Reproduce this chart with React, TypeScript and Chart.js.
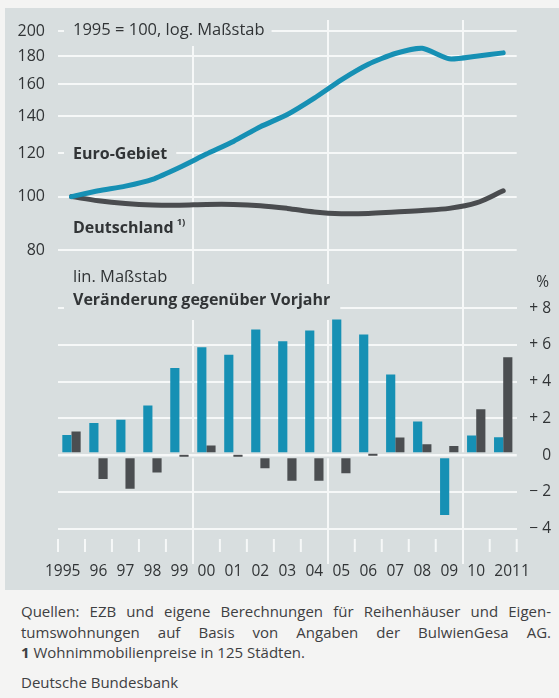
import React, { useEffect, useRef } from 'react';
import { Chart, registerables } from 'chart.js';

Chart.register(...registerables);

// ---------- data ----------
const years = ['1995', '96', '97', '98', '99', '00', '01', '02', '03', '04', '05', '06', '07', '08', '09', '10', '2011'];
// 1995 = 100, log scale
const euroIndex = [100, 102.5, 104.5, 107.5, 113, 119.5, 126, 134, 141, 151, 163, 174, 182, 186, 178, 180, 182.5];
const deIndex = [100, 98.3, 97.2, 96.6, 96.5, 96.8, 96.8, 96.3, 95.2, 93.8, 93.1, 93.2, 93.8, 94.4, 95.2, 97.4, 102.5];
// change vs previous year, %
const euroChange = [1.1, 1.75, 1.93, 2.7, 4.75, 5.87, 5.47, 6.84, 6.2, 6.78, 7.38, 6.56, 4.39, 1.83, -3.25, 1.08, 0.98];
const deChange = [1.29, -1.29, -1.82, -0.93, -0.1, 0.53, -0.1, -0.71, -1.39, -1.39, -0.98, 0.1, 0.96, 0.6, 0.5, 2.5, 5.33];

const indexTicks = [80, 100, 120, 140, 160, 180, 200];
const changeTicks = [-4, -2, 0, 2, 4, 6, 8];
const changeTickLabels = ['\u2212 4', '\u2212 2', '0', '+ 2', '+ 4', '+ 6', '+ 8'];

// ---------- style ----------
const W = 559;
const H = 598;
const TEAL = '#1690b4';
const DARK = '#4b4e51';
const PANEL = '#d8dedf';
const PAGE = '#f4f4f3';
const GRID = '#f6f8f8';
const TEXT = '#313436';
const FONT = '"Open Sans", sans-serif';

function drawLabel(ctx: CanvasRenderingContext2D, text: string, x: number, y: number, bold: boolean, box?: number[]) {
  ctx.font = bold ? `bold 16px ${FONT}` : `16.5px ${FONT}`;
  const w = ctx.measureText(text).width;
  if (box) {
    ctx.fillStyle = PANEL;
    ctx.fillRect(x - box[0], y - box[2], w + box[0] + box[1], box[2] + box[3]);
  }
  ctx.fillStyle = TEXT;
  ctx.textAlign = 'left';
  ctx.textBaseline = 'middle';
  ctx.fillText(text, x, y);
  return w;
}

const decor = {
  id: 'decor',
  beforeDraw(chart: any) {
    const ctx = chart.ctx as CanvasRenderingContext2D;
    ctx.save();
    ctx.fillStyle = PAGE;
    ctx.fillRect(0, 0, W, H);
    ctx.fillStyle = PANEL;
    ctx.fillRect(5, 8, W - 5, 582);
    ctx.restore();
  },
  beforeDatasetsDraw(chart: any) {
    const ctx = chart.ctx as CanvasRenderingContext2D;
    const x = chart.scales.x;
    const yl = chart.scales.yIndex;
    const yr = chart.scales.yChange;
    const step = x.getPixelForTick(1) - x.getPixelForTick(0);
    ctx.save();
    // small category ticks at the bottom
    ctx.strokeStyle = GRID;
    ctx.lineWidth = 2;
    for (let i = 0; i <= years.length; i++) {
      if (i % 5 === 0 && i > 0 && i < years.length) continue;
      const px = x.getPixelForTick(0) - step / 2 + i * step;
      ctx.beginPath();
      ctx.moveTo(px, 539);
      ctx.lineTo(px, 552);
      ctx.stroke();
    }
    // left axis labels
    ctx.font = `16px ${FONT}`;
    ctx.fillStyle = TEXT;
    ctx.textAlign = 'right';
    ctx.textBaseline = 'middle';
    indexTicks.forEach((v) => ctx.fillText(String(v), 45, yl.getPixelForValue(v)));
    // right axis labels
    ctx.font = `15.5px ${FONT}`;
    changeTicks.forEach((v, i) => ctx.fillText(changeTickLabels[i], 551, yr.getPixelForValue(v)));
    ctx.fillText('%', 549, 283);
    // x labels
    ctx.font = `15.5px ${FONT}`;
    years.forEach((t, i) => {
      const cx = x.getPixelForTick(i);
      if (t.length === 4 && i === 0) {
        ctx.textAlign = 'right';
        ctx.fillText(t, cx + ctx.measureText(t.slice(2)).width / 2, 572);
      } else if (t.length === 4) {
        ctx.textAlign = 'left';
        ctx.fillText(t, cx - ctx.measureText(t.slice(0, 2)).width / 2, 572);
      } else {
        ctx.textAlign = 'center';
        ctx.fillText(t, cx, 572);
      }
    });
    // annotations
    drawLabel(ctx, '1995 = 100, log. Maßstab', 73, 30, false, [9, 7, 16, 16]);
    drawLabel(ctx, 'Euro-Gebiet', 73, 154, true, [9, 9, 10, 10]);
    const wd = drawLabel(ctx, 'Deutschland', 73, 228, true);
    ctx.font = `bold 9.5px ${FONT}`;
    ctx.textAlign = 'left';
    ctx.fillText('1)', 73 + wd + 3, 222);
    drawLabel(ctx, 'lin. Maßstab', 73, 277, false);
    drawLabel(ctx, 'Veränderung gegenüber Vorjahr', 73, 300, true, [9, 10, 16, 20]);
    ctx.restore();
  },
  afterDatasetsDraw(chart: any) {
    const ctx = chart.ctx as CanvasRenderingContext2D;
    const yr = chart.scales.yChange;
    const area = chart.chartArea;
    const y0 = yr.getPixelForValue(0);
    ctx.save();
    ctx.fillStyle = PANEL;
    ctx.fillRect(area.left, y0 - 3, area.right - area.left, 6);
    ctx.fillStyle = GRID;
    ctx.fillRect(area.left, y0 - 1.25, area.right - area.left, 2.5);
    const meta = chart.getDatasetMeta(3);
    meta.data.forEach((el: any, i: number) => {
      const v = deChange[i];
      if (Math.abs(v) < 0.3) {
        const p = el.getProps(['x', 'width'], true);
        ctx.fillStyle = DARK;
        ctx.fillRect(p.x - p.width / 2, v < 0 ? y0 - 0.5 : y0 - 1.5, p.width, 2);
      }
    });
    ctx.restore();
  },
};

export default function App() {
  const ref = useRef<HTMLCanvasElement | null>(null);

  useEffect(() => {
    document.body.style.margin = '0';
    if (!ref.current) return;
    const chart = new Chart(ref.current, {
      type: 'bar',
      data: {
        labels: years,
        datasets: [
          {
            type: 'line',
            label: 'Euro-Gebiet',
            data: euroIndex,
            yAxisID: 'yIndex',
            borderColor: TEAL,
            borderWidth: 5,
            pointRadius: 0,
            tension: 0.2,
            borderCapStyle: 'round',
            borderJoinStyle: 'round',
          } as any,
          {
            type: 'line',
            label: 'Deutschland',
            data: deIndex,
            yAxisID: 'yIndex',
            borderColor: '#4a4c4f',
            borderWidth: 5,
            pointRadius: 0,
            tension: 0.35,
            borderCapStyle: 'round',
            borderJoinStyle: 'round',
          } as any,
          {
            type: 'bar',
            label: 'Euro-Gebiet %',
            data: euroChange,
            yAxisID: 'yChange',
            backgroundColor: TEAL,
            categoryPercentage: 0.68,
            barPercentage: 1,
          },
          {
            type: 'bar',
            label: 'Deutschland %',
            data: deChange,
            yAxisID: 'yChange',
            backgroundColor: DARK,
            categoryPercentage: 0.68,
            barPercentage: 1,
          },
        ],
      },
      options: {
        animation: false,
        responsive: false,
        devicePixelRatio: 1,
        layout: { padding: { left: 58, right: W - 516.7, top: 20, bottom: H - 564 } },
        plugins: { legend: { display: false }, tooltip: { enabled: false } },
        scales: {
          x: {
            type: 'category',
            offset: true,
            grid: {
              offset: true,
              drawTicks: false,
              lineWidth: 2,
              color: (c: any) => (c.index === 5 || c.index === 10 || c.index === 15 ? GRID : 'rgba(0,0,0,0)'),
            },
            ticks: { display: false },
            border: { display: false },
            afterFit: (s: any) => {
              s.height = 0;
            },
          },
          yIndex: {
            type: 'logarithmic',
            position: 'left',
            min: 21.5,
            max: 209.4,
            afterBuildTicks: (s: any) => {
              s.ticks = indexTicks.map((v) => ({ value: v }));
            },
            grid: { color: GRID, lineWidth: 2, drawTicks: false },
            ticks: { display: false },
            border: { display: false },
            afterFit: (s: any) => {
              s.width = 0;
            },
          },
          yChange: {
            type: 'linear',
            position: 'right',
            min: -5.91,
            max: 23.66,
            afterBuildTicks: (s: any) => {
              s.ticks = changeTicks.map((v) => ({ value: v }));
            },
            grid: { color: GRID, lineWidth: 2, drawTicks: false },
            ticks: { display: false },
            border: { display: false },
            afterFit: (s: any) => {
              s.width = 0;
            },
          },
        },
      } as any,
      plugins: [decor],
    });
    return () => chart.destroy();
  }, []);

  return (
    <div style={{ position: 'relative', width: 559, height: 698, background: PAGE, fontFamily: FONT, color: '#3e4042', overflow: 'hidden' }}>
      <canvas ref={ref} width={W} height={H} style={{ position: 'absolute', left: 0, top: 0, width: W, height: H }} />
      <div style={{ position: 'absolute', left: 21, top: 601, width: 530, fontSize: 15, lineHeight: '20.5px' }}>
        <div style={{ textAlign: 'justify', textAlignLast: 'justify' as any }}>Quellen: EZB und eigene Berechnungen für Reihenhäuser und Eigen-</div>
        <div style={{ textAlign: 'justify', textAlignLast: 'justify' as any }}>tumswohnungen auf Basis von Angaben der BulwienGesa AG.</div>
        <div>
          <b>1</b> Wohnimmobilienpreise in 125 Städten.
        </div>
        <div style={{ marginTop: 9 }}>Deutsche Bundesbank</div>
      </div>
    </div>
  );
}
